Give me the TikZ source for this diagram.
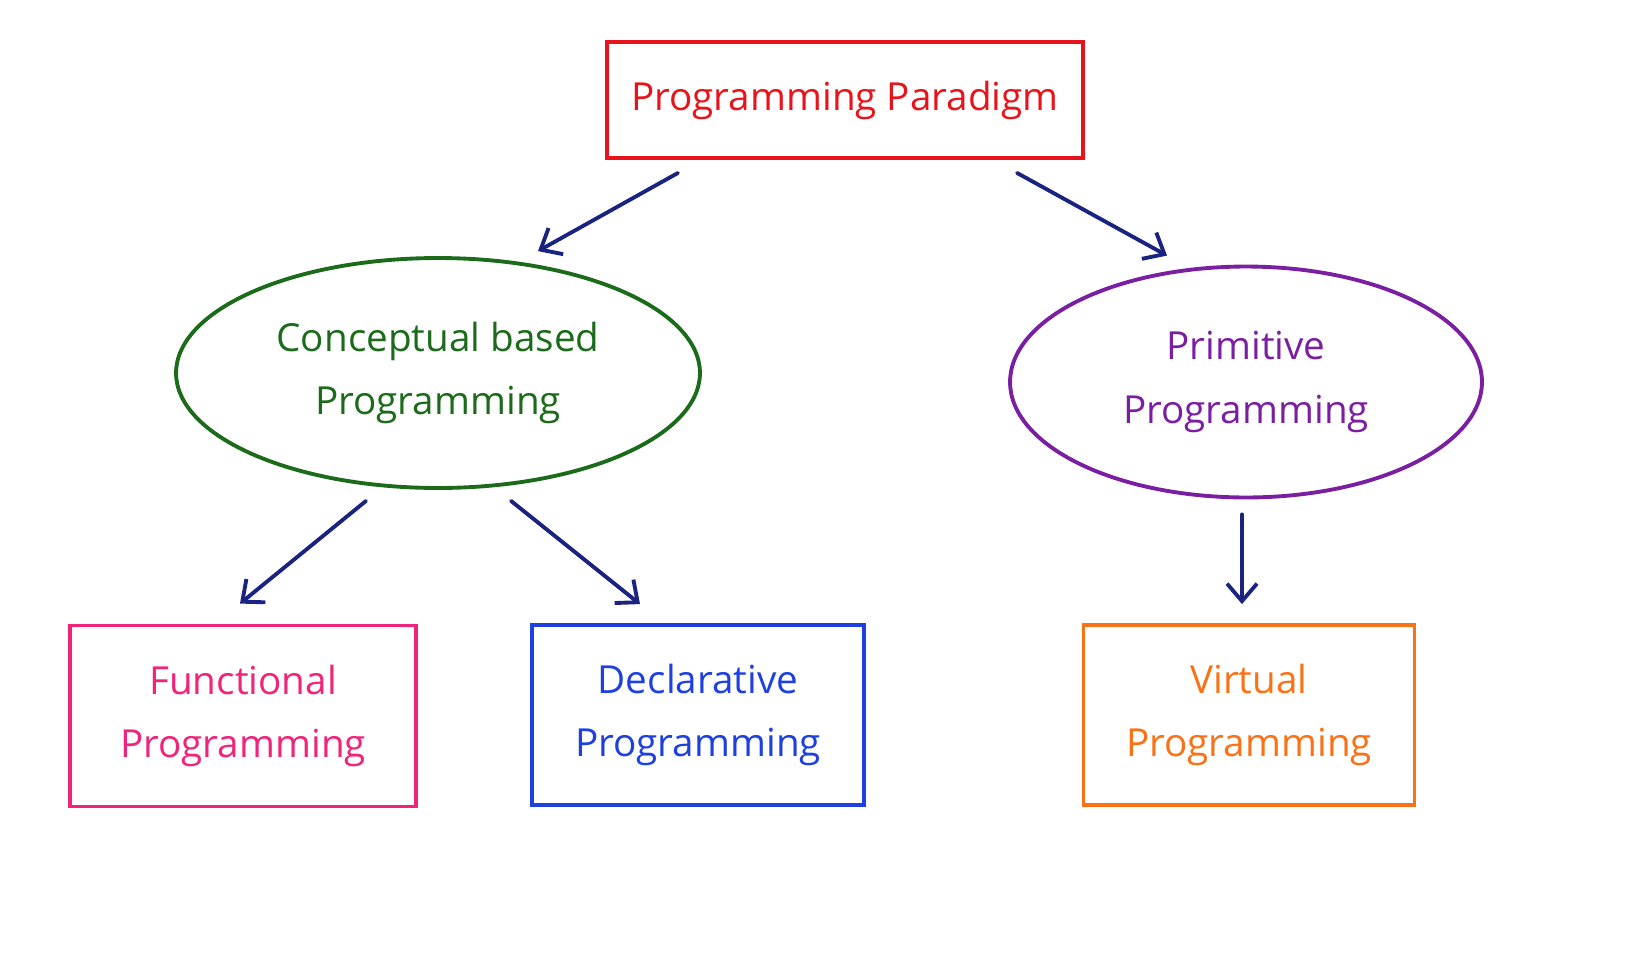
\documentclass[tikz,border=0pt]{standalone}
\usepackage{fontspec}
\setmainfont{Open Sans}
\usepackage{tikz}
\usetikzlibrary{shapes.geometric,arrows.meta,calc}

\definecolor{ppred}{HTML}{E8141C}
\definecolor{arrblue}{HTML}{1A2380}
\definecolor{cbgreen}{HTML}{1B6B1B}
\definecolor{prpurple}{HTML}{7B1FA2}
\definecolor{fnpink}{HTML}{F0247A}
\definecolor{dcblue}{HTML}{1E40E0}
\definecolor{vtorange}{HTML}{F97316}

\begin{document}
\begin{tikzpicture}[x=0.02cm, y=-0.02cm, line width=2.2pt,
		every node/.style={font=\fontsize{22}{36}\selectfont, align=center, inner sep=0pt},
		box/.style={draw, rectangle},
		oval/.style={draw, ellipse},
		arr/.style={arrblue, line cap=round, -{Straight Barb[length=0.35cm, width=0.6cm]}}]
				\useasboundingbox (0,0) rectangle (1632,964);
				\node [box, ppred, minimum width=9.52cm, minimum height=2.32cm] (pp) at (845, 100) {Programming Paradigm};
				\node [oval, cbgreen, minimum width=10.48cm, minimum height=4.6cm] (cbp) at (438, 373) {Conceptual based\\Programming};
				\node [oval, prpurple, minimum width=9.44cm, minimum height=4.62cm] (prim) at (1246, 382) {Primitive\\Programming};
				\node [box, fnpink, minimum width=6.92cm, minimum height=3.62cm] (func) at (243, 716) {Functional\\Programming};
				\node [box, dcblue, minimum width=6.64cm, minimum height=3.6cm] (decl) at (698, 715) {Declarative\\Programming};
				\node [box, vtorange, minimum width=6.62cm, minimum height=3.6cm] (virt) at (1249, 715) {Virtual\\Programming};
				\draw [arr] ($(pp.south)+(-167, 13)$) -- ($(cbp.north)+(100, -5)$);
				\draw [arr] ($(pp.south)+(172, 13)$) -- ($(prim.north)+(-79, -9)$);
				\draw [arr] ($(cbp.south)+(-72, 11)$) -- ($(func.north)+(-3, -20)$);
				\draw [arr] ($(cbp.south)+(73, 11)$) -- ($(decl.north)+(-58, -19)$);
				\draw [arr] ($(prim.south)+(-4, 15)$) -- ($(virt.north)+(-7, -19)$);
				\end{tikzpicture}
\end{document}
